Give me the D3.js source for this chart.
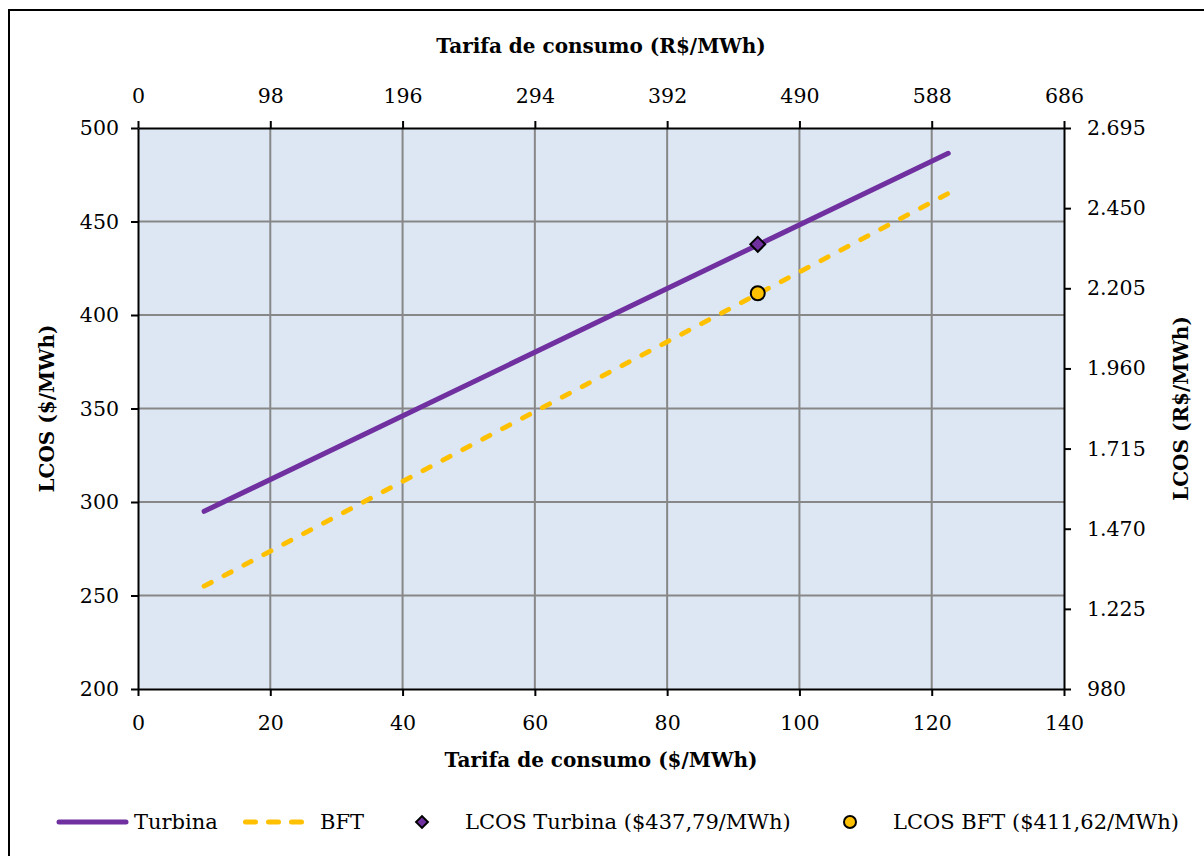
<!DOCTYPE html>
<html><head><meta charset="utf-8">
<script src="https://cdn.jsdelivr.net/npm/d3@7"></script>
<style>body{margin:0;background:#fff}svg{display:block}text{font-family:"DejaVu Serif",serif;fill:#000}</style>
</head><body><svg id="c" width="1204" height="856"></svg>
<script>
const xTicks = [0,20,40,60,80,100,120,140];
const yTicks = [200,250,300,350,400,450,500];
const topTickLabels = ["0","98","196","294","392","490","588","686"];
const rightTickLabels = ["980","1.225","1.470","1.715","1.960","2.205","2.450","2.695"];
const turbinaX = [10,122.5];
const turbinaY = [295,486.5];
const bftX = [10,122.5];
const bftY = [255,465];
const markerX = [93.7];
const lcosTurbina = [437.79];
const lcosBFT = [411.62];
const legendLabels = ["Turbina","BFT","LCOS Turbina ($437,79/MWh)","LCOS BFT ($411,62/MWh)"];

const svg = d3.select("#c");
const L=138,R=1064,T=128,B=689;
const x = d3.scaleLinear().domain([0,140]).range([L,R]);
const y = d3.scaleLinear().domain([200,500]).range([B,T]);
const purple="#7030A0", gold="#FFC000";
const fs=20.5, lfs=21, FF="DejaVu Serif";

svg.append("rect").attr("x",9).attr("y",10).attr("width",1210).attr("height",870).attr("fill","#fff").attr("stroke","#000").attr("stroke-width",2);
svg.append("rect").attr("x",L).attr("y",T).attr("width",R-L).attr("height",B-T).attr("fill","#DCE7F3");

// grid
svg.append("g").selectAll("line").data(xTicks.slice(1,-1)).join("line")
 .attr("x1",d=>x(d)).attr("x2",d=>x(d)).attr("y1",T).attr("y2",B).attr("stroke","#878787").attr("stroke-width",2);
svg.append("g").selectAll("line").data(yTicks.slice(1,-1)).join("line")
 .attr("y1",d=>y(d)).attr("y2",d=>y(d)).attr("x1",L).attr("x2",R).attr("stroke","#878787").attr("stroke-width",2);

// axes
function styleAx(g){g.select(".domain").attr("stroke","#000").attr("stroke-width",2);
 g.selectAll(".tick line").attr("stroke","#000").attr("stroke-width",2);
 g.selectAll(".tick text").attr("font-size",fs).attr("font-family",FF).attr("fill","#000");}
svg.append("g").attr("transform",`translate(0,${B})`).call(d3.axisBottom(x).tickValues(xTicks).tickSize(7).tickSizeOuter(0).tickPadding(19)).call(styleAx);
svg.append("g").attr("transform",`translate(0,${T})`).call(d3.axisTop(x).tickValues(xTicks).tickSize(7).tickSizeOuter(0).tickPadding(18).tickFormat((d,i)=>topTickLabels[i])).call(styleAx);
svg.append("g").attr("transform",`translate(${L},0)`).call(d3.axisLeft(y).tickValues(yTicks).tickSize(7).tickSizeOuter(0).tickPadding(12)).call(styleAx);
const yR = d3.scaleLinear().domain([0,7]).range([B,T]);
svg.append("g").attr("transform",`translate(${R},0)`).call(d3.axisRight(yR).tickValues(d3.range(8)).tickSize(7).tickSizeOuter(0).tickPadding(16).tickFormat((d,i)=>rightTickLabels[i])).call(styleAx);

// lines
const line = d3.line().x(d=>x(d[0])).y(d=>y(d[1]));
svg.append("path").datum(turbinaX.map((v,i)=>[v,turbinaY[i]])).attr("d",line).attr("fill","none").attr("stroke",purple).attr("stroke-width",5).attr("stroke-linecap","round");
svg.append("path").datum(bftX.map((v,i)=>[v,bftY[i]])).attr("d",line).attr("fill","none").attr("stroke",gold).attr("stroke-width",5).attr("stroke-linecap","round").attr("stroke-dasharray","8,14.5");

// markers
svg.selectAll(".dm").data(markerX).join("path")
 .attr("d",d3.symbol().type(d3.symbolSquare).size(110)).attr("transform",(d,i)=>`translate(${x(d)},${y(lcosTurbina[i])}) rotate(45)`)
 .attr("fill",purple).attr("stroke","#000").attr("stroke-width",2);
svg.selectAll(".cm").data(markerX).join("circle").attr("cx",d=>x(d)).attr("cy",(d,i)=>y(lcosBFT[i])).attr("r",7)
 .attr("fill",gold).attr("stroke","#000").attr("stroke-width",2);

// titles
const tfs=20;
svg.append("text").attr("x",(L+R)/2).attr("y",53).attr("text-anchor","middle").attr("font-size",tfs).attr("font-weight","bold").text("Tarifa de consumo (R$/MWh)");
svg.append("text").attr("x",(L+R)/2).attr("y",767).attr("text-anchor","middle").attr("font-size",tfs).attr("font-weight","bold").text("Tarifa de consumo ($/MWh)");
svg.append("text").attr("transform",`translate(54,${(T+B)/2}) rotate(-90)`).attr("text-anchor","middle").attr("font-size",tfs).attr("font-weight","bold").text("LCOS ($/MWh)");
svg.append("text").attr("transform",`translate(1188,${(T+B)/2}) rotate(-90)`).attr("text-anchor","middle").attr("font-size",tfs).attr("font-weight","bold").text("LCOS (R$/MWh)");

// legend
const ly=822;
const lg=svg.append("g");
lg.append("line").attr("x1",59).attr("x2",126).attr("y1",ly).attr("y2",ly).attr("stroke",purple).attr("stroke-width",5).attr("stroke-linecap","round");
lg.append("text").attr("x",134).attr("y",ly+7).attr("font-size",lfs).text(legendLabels[0]);
lg.append("line").attr("x1",245.5).attr("x2",303).attr("y1",ly).attr("y2",ly).attr("stroke",gold).attr("stroke-width",5).attr("stroke-linecap","round").attr("stroke-dasharray","10,13");
lg.append("text").attr("x",320).attr("y",ly+7).attr("font-size",lfs).text(legendLabels[1]);
lg.append("path").attr("d",d3.symbol().type(d3.symbolSquare).size(70)).attr("transform",`translate(422,${ly}) rotate(45)`).attr("fill",purple).attr("stroke","#000").attr("stroke-width",2);
lg.append("text").attr("x",465).attr("y",ly+7).attr("font-size",lfs).text(legendLabels[2]);
lg.append("circle").attr("cx",850).attr("cy",ly).attr("r",6).attr("fill",gold).attr("stroke","#000").attr("stroke-width",2);
lg.append("text").attr("x",893).attr("y",ly+7).attr("font-size",lfs).text(legendLabels[3]);
</script></body></html>
